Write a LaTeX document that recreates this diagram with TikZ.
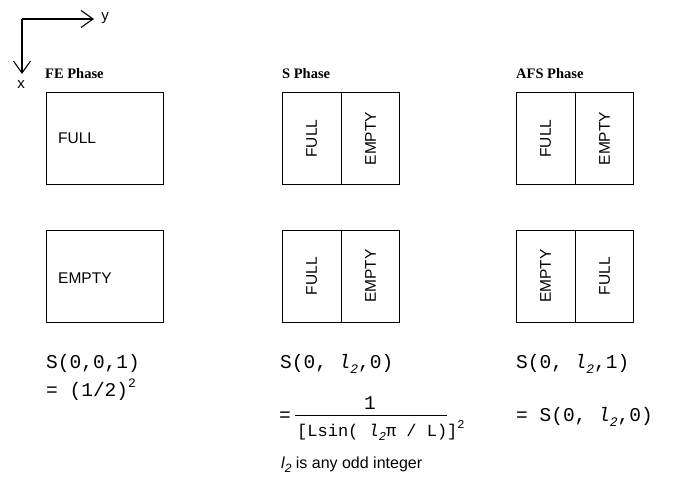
\documentclass[tikz,border=0pt]{standalone}
\usepackage{fontspec}
\setmainfont{Liberation Serif}
\newfontfamily\arialf{Liberation Sans}
\newfontfamily\courf{Liberation Mono}
\usetikzlibrary{arrows.meta,calc}

% italic l with subscript 2 in the current font
\newcommand{\elltwo}[1]{{\itshape l}\raisebox{-0.5ex}{\fontsize{#1}{#1}\selectfont\itshape 2}}

\tikzset{
  axis/.style={line width=1.1pt, -{Straight Barb[length=12pt,width=17pt,line width=1.1pt]}},
  cell/.style={draw, line width=1.2pt, minimum width=117pt, minimum height=92pt, inner sep=0pt, anchor=north west},
  divider/.style={line width=1.2pt},
  thindivider/.style={line width=0.7pt},
  phase/.style={font=\fontsize{14.5}{14.5}\selectfont\bfseries, anchor=base west, inner sep=0pt},
  lab/.style={font=\arialf\fontsize{15.5}{15.5}\selectfont, inner sep=0pt},
  axlab/.style={font=\arialf\fontsize{15}{15}\selectfont, inner sep=0pt},
  mono/.style={font=\courf\fontsize{19.5}{19.5}\selectfont, anchor=base west, inner sep=0pt},
  monosmall/.style={font=\courf\fontsize{17}{17}\selectfont, anchor=base west, inner sep=0pt},
  note/.style={font=\arialf\fontsize{16}{16}\selectfont, anchor=base west, inner sep=0pt}
}

\begin{document}
\begin{tikzpicture}[x=1pt,y=-1pt]
\useasboundingbox (0,0) rectangle (680,487);

% coordinate axes
\coordinate (o) at (22,19);
\coordinate (ytip) at (94,19);
\coordinate (xtip) at (22,74);
\draw[axis] (o) -- (ytip);
\draw[axis] (o) -- (xtip);
\node[axlab] (ylab) at (105,18) {y};
\node[axlab] (xlab) at (21,85) {x};

% phase titles
\node[phase] (fet) at (45,78) {FE Phase};
\node[phase] (st)  at (282,78) {S Phase};
\node[phase] (aft) at (516,78) {AFS Phase};

% FE phase
\node[cell] (fe1) at (46,92) {};
\node[cell] (fe2) at (46,229.5) {};
\node[lab, anchor=west] (fe1t) at (58,138) {FULL};
\node[lab, anchor=west] (fe2t) at (58,278) {EMPTY};

% S phase
\node[cell] (s1) at (282,92) {};
\node[cell] (s2) at (282,229.5) {};
\draw[divider] (s1.north) -- (s1.south);
\draw[divider] (s2.north) -- (s2.south);
\node[lab, rotate=90] (s1a) at ($(s1.west)!0.5!(s1.center)$) {FULL};
\node[lab, rotate=90] (s1b) at ($(s1.east)!0.5!(s1.center)$) {EMPTY};
\node[lab, rotate=90] (s2a) at ($(s2.west)!0.5!(s2.center)$) {FULL};
\node[lab, rotate=90] (s2b) at ($(s2.east)!0.5!(s2.center)$) {EMPTY};

% AFS phase
\node[cell] (a1) at (516,92) {};
\node[cell] (a2) at (516,229.5) {};
\draw[thindivider] (a1.north) -- (a1.south);
\draw[thindivider] (a2.north) -- (a2.south);
\node[lab, rotate=90] (a1a) at ($(a1.west)!0.5!(a1.center)$) {FULL};
\node[lab, rotate=90] (a1b) at ($(a1.east)!0.5!(a1.center)$) {EMPTY};
\node[lab, rotate=90] (a2a) at ($(a2.west)!0.5!(a2.center)$) {EMPTY};
\node[lab, rotate=90] (a2b) at ($(a2.east)!0.5!(a2.center)$) {FULL};

% structure factors
\node[mono] (sfe) at (46,368) {S(0,0,1)};
\node[mono] (sfe2) at (46,396) {= (1/2)\raisebox{0.8ex}{\fontsize{13}{13}\selectfont 2}};

\node[mono] (ss) at (280,368) {S(0, \elltwo{13},0)};
\node[mono] (seq) at (279,421) {=};
\coordinate (rl) at (295,415);
\coordinate (rr) at (447,415);
\draw[line width=0.8pt] (rl) -- (rr);
\node[mono] (snum) at (364,409) {1};
\node[monosmall] (sden) at (297,436) {[Lsin( \elltwo{12}π / L)]\raisebox{0.8ex}{\fontsize{12}{12}\selectfont 2}};
\node[note] (snote) at (281,468) {\elltwo{12} is any odd integer};

\node[mono] (sa) at (516,368) {S(0, \elltwo{13},1)};
\node[mono] (sa2) at (516,421) {= S(0, \elltwo{13},0)};
\end{tikzpicture}
\end{document}
